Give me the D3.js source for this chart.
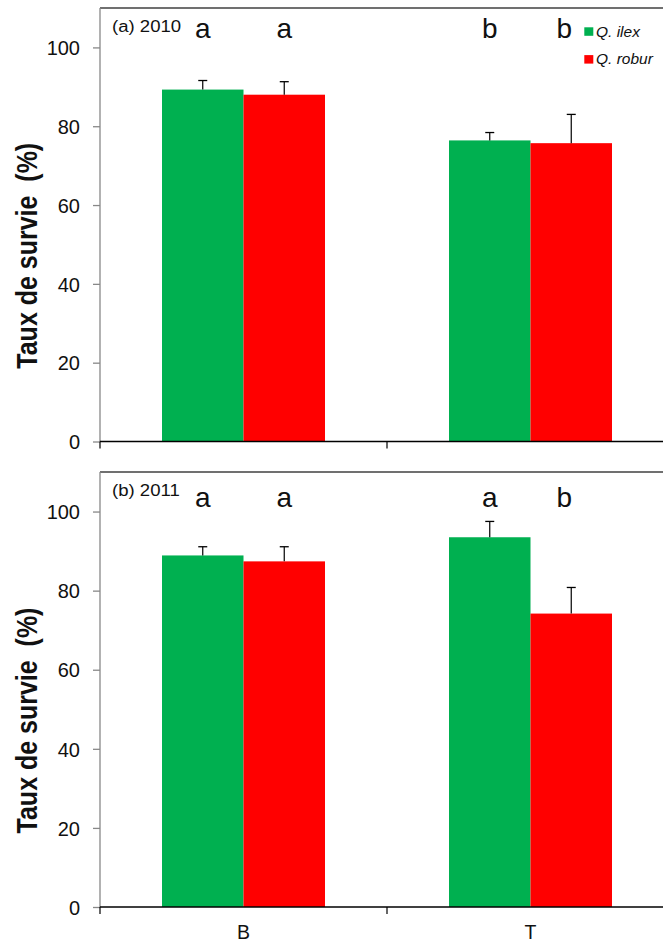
<!DOCTYPE html>
<html><head><meta charset="utf-8">
<script src="https://cdn.jsdelivr.net/npm/d3@7"></script>
<style>body{margin:0;background:#fff}svg{display:block;font-family:"Liberation Sans",Arial,sans-serif}</style>
</head><body><svg id="c" width="663" height="943"></svg>
<script>
const categories = ["B","T"];
const species = ["Q. ilex","Q. robur"];
const colors = ["#00B050","#FF0000"];
const panelLabels = ["(a) 2010","(b) 2011"];
const yTicks = [0,20,40,60,80,100];
// values [category][species]
const means2010 = [[89.3,88.0],[76.4,75.7]];
const errs2010  = [[2.3,3.3],[2.0,7.3]];
const letters2010 = [["a","a"],["b","b"]];
const means2011 = [[88.9,87.4],[93.5,74.2]];
const errs2011  = [[2.2,3.7],[4.0,6.6]];
const letters2011 = [["a","a"],["a","b"]];

const panels = [
  {label:panelLabels[0], means:means2010, errs:errs2010, letters:letters2010, top:8, bottom:441.5, letterDy:29.5},
  {label:panelLabels[1], means:means2011, errs:errs2011, letters:letters2011, top:472, bottom:907, letterDy:34.5}
];
const svg = d3.select("#c");
const x0 = d3.scaleBand().domain(categories).range([100,674]).paddingInner(0).paddingOuter(0);
const x1 = d3.scaleBand().domain(species).range([62,225]).padding(0);

panels.forEach((p,pi)=>{
  const y = d3.scaleLinear().domain([0,110]).range([p.bottom,p.top]);
  const g = svg.append("g");
  g.append("line").attr("x1",100).attr("x2",674).attr("y1",p.top).attr("y2",p.top).attr("stroke","#404040").attr("stroke-width",1.5);
  const ya = g.append("g").attr("transform","translate(100,0)").call(d3.axisLeft(y).tickValues(yTicks).tickSize(7).tickPadding(13));
  ya.select(".domain").attr("stroke","#888").attr("stroke-width",1.3).attr("d",`M0,${p.top}V${p.bottom}`);
  ya.selectAll(".tick line").attr("stroke","#888").attr("stroke-width",1.3);
  ya.selectAll(".tick text").attr("font-size",20).attr("fill","#111").attr("dy","0.36em").attr("font-family","Liberation Sans, Arial, sans-serif");
  categories.forEach((c,ci)=>{
    species.forEach((s,si)=>{
      const v = p.means[ci][si], e = p.errs[ci][si];
      const bx = x0(c)+x1(s);
      g.append("rect").attr("x",bx).attr("y",y(v)).attr("width",x1.bandwidth()).attr("height",y(0)-y(v)).attr("fill",colors[si]);
      const cx = bx + x1.bandwidth()/2;
      g.append("line").attr("x1",cx).attr("x2",cx).attr("y1",y(v)).attr("y2",y(v+e)).attr("stroke","#000").attr("stroke-width",1.2);
      g.append("line").attr("x1",cx-4.5).attr("x2",cx+4.5).attr("y1",y(v+e)).attr("y2",y(v+e)).attr("stroke","#000").attr("stroke-width",1.3);
      const off = (ci===1 && si===1) ? -7 : 0;
      g.append("text").attr("x",cx+off).attr("y",p.top+p.letterDy).attr("text-anchor","middle").attr("font-size",28).attr("fill","#111").text(p.letters[ci][si]);
    });
  });
  const xa = g.append("g").attr("transform",`translate(0,${p.bottom})`);
  xa.append("line").attr("x1",100).attr("x2",674).attr("stroke","#000").attr("stroke-width",1.6);
  [100,387,674].forEach(t=>xa.append("line").attr("x1",t).attr("x2",t).attr("y1",0).attr("y2",7).attr("stroke","#000").attr("stroke-width",1.2));
  g.append("text").attr("transform",`translate(112,${p.top+24.3}) scale(1.16,1)`).attr("font-size",16).attr("fill","#111").text(p.label);
  const cy = (p.top+p.bottom)/2 + 31;
  g.append("text").attr("transform",`translate(36.5,${cy}) rotate(-90) scale(1,1.18)`).attr("text-anchor","middle").attr("font-size",25).attr("font-weight","bold").attr("fill","#111").attr("xml:space","preserve").text("Taux de survie  (%)");
});
categories.forEach(c=>{
  svg.append("text").attr("x",x0(c)+x0.bandwidth()/2).attr("y",939).attr("text-anchor","middle").attr("font-size",19.5).attr("fill","#111").text(c);
});
species.forEach((s,i)=>{
  svg.append("rect").attr("x",584.3).attr("y",27.3+i*27.8).attr("width",9).attr("height",8.5).attr("fill",colors[i]);
  svg.append("text").attr("x",596).attr("y",36.5+i*27.8).attr("font-size",15.5).attr("font-style","italic").attr("fill","#111").text(s);
});
</script></body></html>
